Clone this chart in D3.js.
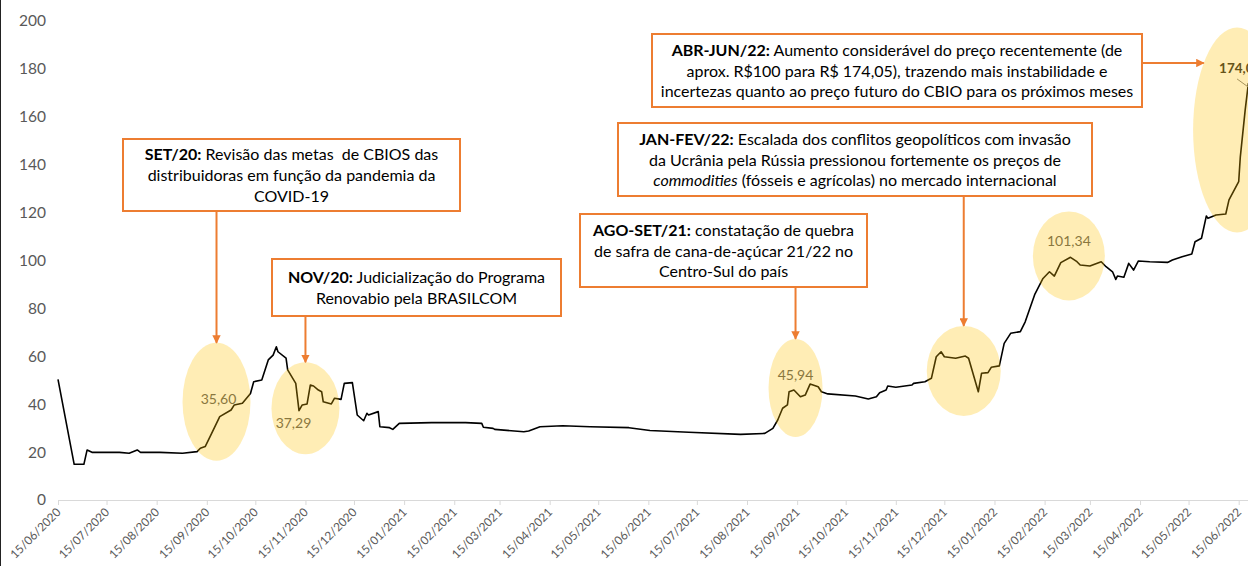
<!DOCTYPE html>
<html lang="pt-BR">
<head>
<meta charset="UTF-8">
<title>Preço do CBIO</title>
<script src="https://cdn.jsdelivr.net/npm/d3@7"></script>
<style>
  body { margin: 0; background: #fff; overflow: hidden; }
  svg { display: block; font-family: Lato, "Open Sans", sans-serif; }
  .note text { font-size: 16px; fill: #000; }
</style>
</head>
<body>
<script>
// daily CBIO price (R$)
const dates = [
  "15/06/2020","25/06/2020","01/07/2020","03/07/2020","06/07/2020","23/07/2020","29/07/2020","03/08/2020",
  "05/08/2020","17/08/2020","31/08/2020","09/09/2020","11/09/2020","14/09/2020","18/09/2020","23/09/2020",
  "30/09/2020","02/10/2020","07/10/2020","12/10/2020","14/10/2020","19/10/2020","23/10/2020","26/10/2020",
  "28/10/2020","29/10/2020","03/11/2020","04/11/2020","09/11/2020","11/11/2020","13/11/2020","16/11/2020",
  "18/11/2020","20/11/2020","23/11/2020","25/11/2020","26/11/2020","01/12/2020","03/12/2020","07/12/2020",
  "09/12/2020","14/12/2020","17/12/2020","21/12/2020","23/12/2020","24/12/2020","30/12/2020","31/12/2020",
  "06/01/2021","08/01/2021","12/01/2021","01/02/2021","22/02/2021","04/03/2021","05/03/2021","11/03/2021",
  "12/03/2021","30/03/2021","02/04/2021","09/04/2021","23/04/2021","10/05/2021","03/06/2021","16/06/2021",
  "10/07/2021","11/08/2021","26/08/2021","31/08/2021","03/09/2021","06/09/2021","09/09/2021","10/09/2021",
  "13/09/2021","17/09/2021","20/09/2021","23/09/2021","28/09/2021","30/09/2021","04/10/2021","21/10/2021",
  "29/10/2021","03/11/2021","05/11/2021","09/11/2021","10/11/2021","15/11/2021","25/11/2021","26/11/2021",
  "03/12/2021","07/12/2021","10/12/2021","13/12/2021","15/12/2021","22/12/2021","28/12/2021","30/12/2021",
  "05/01/2022","07/01/2022","11/01/2022","13/01/2022","18/01/2022","21/01/2022","25/01/2022","31/01/2022",
  "03/02/2022","09/02/2022","14/02/2022","18/02/2022","21/02/2022","25/02/2022","03/03/2022","07/03/2022",
  "09/03/2022","15/03/2022","22/03/2022","25/03/2022","29/03/2022","31/03/2022","01/04/2022","05/04/2022",
  "08/04/2022","11/04/2022","14/04/2022","21/04/2022","02/05/2022","05/05/2022","11/05/2022","17/05/2022",
  "19/05/2022","23/05/2022","26/05/2022","27/05/2022","01/06/2022","07/06/2022","09/06/2022","15/06/2022",
  "16/06/2022","19/06/2022","21/06/2022"
];
const prices = [
  50.4, 14.9, 14.9, 20.9, 19.9, 19.9, 19.5, 20.9,
  19.9, 19.9, 19.5, 20.2, 21.6, 22.3, 27.8, 34.8,
  37.6, 39.7, 40.4, 44.5, 49.4, 50.1, 58.5, 60.5,
  64.0, 61.9, 59.2, 54.3, 48.7, 37.29, 39.7, 40.1,
  48.0, 47.6, 45.9, 45.2, 41.0, 40.1, 42.5, 42.0,
  48.7, 49.0, 35.5, 33.1, 36.2, 35.5, 36.9, 30.6,
  30.2, 29.5, 32.0, 32.3, 32.3, 32.0, 30.4, 29.9,
  29.5, 28.5, 28.8, 30.6, 31.0, 30.6, 30.2, 29.0,
  28.3, 27.4, 27.8, 29.9, 33.4, 38.3, 39.7, 45.2,
  45.94, 43.1, 43.8, 48.4, 47.3, 45.2, 44.3, 43.4,
  42.2, 43.1, 44.8, 45.9, 47.6, 47.1, 48.0, 48.7,
  49.4, 50.8, 59.8, 61.9, 59.8, 59.2, 60.1, 59.2,
  45.2, 52.9, 53.2, 55.4, 56.0, 65.4, 69.6, 70.3,
  74.4, 86.0, 92.5, 95.3, 93.5, 99.1, 101.34, 99.5,
  98.1, 97.7, 99.5, 97.4, 95.3, 92.1, 93.5, 93.0,
  98.8, 96.0, 99.8, 99.5, 99.2, 100.2, 101.6, 102.7,
  107.8, 109.3, 118.6, 117.6, 119.0, 119.4, 125.3, 132.9,
  143.3, 162.8, 174.05
];

const tickLabels = [
  "15/06/2020","15/07/2020","15/08/2020","15/09/2020","15/10/2020","15/11/2020","15/12/2020",
  "15/01/2021","15/02/2021","15/03/2021","15/04/2021","15/05/2021","15/06/2021","15/07/2021",
  "15/08/2021","15/09/2021","15/10/2021","15/11/2021","15/12/2021","15/01/2022","15/02/2022",
  "15/03/2022","15/04/2022","15/05/2022","15/06/2022"
];
const yTicks = [0, 20, 40, 60, 80, 100, 120, 140, 160, 180, 200];

// highlighted periods: centre date / value, and the value label shown inside
const highlightDates  = ["21/09/2020", "15/11/2020", "14/09/2021", "27/12/2021", "02/03/2022", "14/06/2022"];
const highlightValues = [41.0, 38.3, 46.8, 53.9, 101.9, 154.5];
const highlightLabels = ["35,60", "37,29", "45,94", "", "101,34", "174,05"];

// annotation texts: each line is a list of [text, style]
const noteTexts = [
  [[["SET/20:", "b"], [" Revisão das metas  de CBIOS das"]],
   [["distribuidoras em função da pandemia da"]],
   [["COVID-19"]]],
  [[["NOV/20:", "b"], [" Judicialização do Programa"]],
   [["Renovabio pela BRASILCOM"]]],
  [[["AGO-SET/21:", "b"], [" constatação de quebra"]],
   [["de safra de cana-de-açúcar 21/22 no"]],
   [["Centro-Sul do país"]]],
  [[["JAN-FEV/22:", "b"], [" Escalada dos conflitos geopolíticos com invasão"]],
   [["da Ucrânia pela Rússia pressionou fortemente os preços de"]],
   [["commodities", "i"], [" (fósseis e agrícolas) no mercado internacional"]]],
  [[["ABR-JUN/22:", "b"], [" Aumento considerável do preço recentemente (de"]],
   [["aprox. R$100 para R$ 174,05), trazendo mais instabilidade e"]],
   [["incertezas quanto ao preço futuro do CBIO para os próximos meses"]]]
];

// layout (pixels)
const width = 1248, height = 566;
const ellipseSize = [[34, 59], [34, 46], [27, 49], [37, 45], [36, 44.5], [44, 102.5]];
const labelOffset = [[2, 2], [-12, 20], [0, -8], [0, 0], [0, -10], [-18, -57]];
const noteBoxes = [
  { x: 123, y: 139, w: 337, h: 72, target: 0, side: "bottom" },
  { x: 272, y: 259, w: 289, h: 57, target: 1, side: "bottom" },
  { x: 580, y: 214, w: 287, h: 73, target: 2, side: "bottom" },
  { x: 618, y: 123, w: 474, h: 73, target: 3, side: "bottom" },
  { x: 652, y: 34,  w: 490, h: 73, target: 5, side: "right", arrowY: 63 }
];
const lineGap = 20.7;

const parse = d3.timeParse("%d/%m/%Y");
const series = dates.map((d, i) => ({ date: parse(d), value: prices[i] }));

const x = d3.scaleTime()
  .domain([parse("15/06/2020"), parse("15/06/2022")])
  .range([58, 1238.7]);
const y = d3.scaleLinear().domain([0, 200]).range([500, 21]);

const svg = d3.select("body").append("svg")
  .attr("width", width)
  .attr("height", height);

svg.append("defs").append("marker")
  .attr("id", "arrow")
  .attr("viewBox", "0 0 10 10")
  .attr("refX", 9).attr("refY", 5)
  .attr("markerWidth", 4.2).attr("markerHeight", 4.2)
  .attr("markerUnits", "strokeWidth")
  .attr("orient", "auto")
  .append("path")
  .attr("d", "M0,0L10,5L0,10Z")
  .attr("fill", "#ED7D31");

// frame on the left edge
svg.append("line")
  .attr("x1", 0.5).attr("x2", 0.5).attr("y1", 0).attr("y2", height)
  .attr("stroke", "#222").attr("stroke-width", 1);

// y axis labels (no line, no grid)
svg.append("g").selectAll("text")
  .data(yTicks)
  .join("text")
  .attr("x", 46)
  .attr("y", d => y(d))
  .attr("dy", "0.35em")
  .attr("text-anchor", "end")
  .attr("font-size", 15.5)
  .attr("fill", "#595959")
  .text(d => d);

// x axis
const xAxis = d3.axisBottom(x)
  .tickValues(tickLabels.map(parse))
  .tickFormat(d3.timeFormat("%d/%m/%Y"))
  .tickSizeInner(5)
  .tickSizeOuter(0);

const gx = svg.append("g")
  .attr("transform", "translate(0,500)")
  .call(xAxis);
gx.select(".domain").attr("stroke", "#d9d9d9").attr("d", "M58,0.5H1248");
gx.selectAll(".tick line").attr("stroke", "#d9d9d9");
gx.selectAll(".tick text")
  .attr("font-family", "Lato, sans-serif")
  .attr("font-size", 11.8)
  .attr("fill", "#595959")
  .attr("text-anchor", "end")
  .attr("y", 0)
  .attr("dy", 0)
  .attr("transform", "translate(3,13) rotate(-45)");

// price line
svg.append("path")
  .datum(series)
  .attr("fill", "none")
  .attr("stroke", "#000")
  .attr("stroke-width", 1.6)
  .attr("stroke-linejoin", "round")
  .attr("d", d3.line().x(d => x(d.date)).y(d => y(d.value)));

const hl = highlightDates.map((d, i) => ({
  cx: x(parse(d)),
  cy: y(highlightValues[i]),
  rx: ellipseSize[i][0],
  ry: ellipseSize[i][1],
  label: highlightLabels[i],
  dx: labelOffset[i][0],
  dy: labelOffset[i][1],
  last: i === highlightDates.length - 1
}));

// value labels (sit under the translucent ellipses)
const lastPt = series[series.length - 1];
hl.forEach(h => {
  if (!h.label) return;
  svg.append("text")
    .attr("x", h.cx + h.dx)
    .attr("y", h.cy + h.dy)
    .attr("font-size", h.last ? 13.5 : 14)
    .attr("font-weight", h.last ? 700 : 400)
    .attr("fill", h.last ? "#262626" : "#595959")
    .attr("text-anchor", h.last ? "start" : "middle")
    .text(h.label);
  if (h.last) {
    svg.append("line")
      .attr("x1", h.cx + h.dx + 18).attr("y1", h.cy + h.dy + 6)
      .attr("x2", x(lastPt.date)).attr("y2", y(lastPt.value) + 4)
      .attr("stroke", "#7f7f7f").attr("stroke-width", 1);
  }
});

svg.append("g").selectAll("ellipse")
  .data(hl)
  .join("ellipse")
  .attr("cx", d => d.cx)
  .attr("cy", d => d.cy)
  .attr("rx", d => d.rx)
  .attr("ry", d => d.ry)
  .attr("fill", "#FFC000")
  .attr("fill-opacity", 0.29);

// annotation boxes and arrows
noteBoxes.forEach((b, i) => {
  const g = svg.append("g").attr("class", "note");
  const h = hl[b.target];
  if (b.side === "bottom") {
    g.append("line")
      .attr("x1", h.cx).attr("y1", b.y + b.h)
      .attr("x2", h.cx).attr("y2", h.cy - h.ry)
      .attr("stroke", "#ED7D31").attr("stroke-width", 2)
      .attr("marker-end", "url(#arrow)");
  } else {
    const k = (b.arrowY - h.cy) / h.ry;
    const ex = h.cx - h.rx * Math.sqrt(1 - k * k);
    g.append("line")
      .attr("x1", b.x + b.w).attr("y1", b.arrowY)
      .attr("x2", ex).attr("y2", b.arrowY)
      .attr("stroke", "#ED7D31").attr("stroke-width", 2)
      .attr("marker-end", "url(#arrow)");
  }
  g.append("rect")
    .attr("x", b.x).attr("y", b.y)
    .attr("width", b.w).attr("height", b.h)
    .attr("fill", "#fff")
    .attr("stroke", "#ED7D31")
    .attr("stroke-width", 2);

  const lines = noteTexts[i];
  const firstBase = b.y + b.h / 2 - (lines.length - 1) * lineGap / 2 + 6;
  lines.forEach((segs, j) => {
    const t = g.append("text")
      .attr("x", b.x + b.w / 2)
      .attr("y", firstBase + j * lineGap)
      .attr("text-anchor", "middle")
      .attr("xml:space", "preserve");
    segs.forEach(([s, st]) => {
      t.append("tspan")
        .attr("font-weight", st === "b" ? 700 : 400)
        .attr("font-style", st === "i" ? "italic" : "normal")
        .text(s);
    });
  });
});
</script>
</body>
</html>
